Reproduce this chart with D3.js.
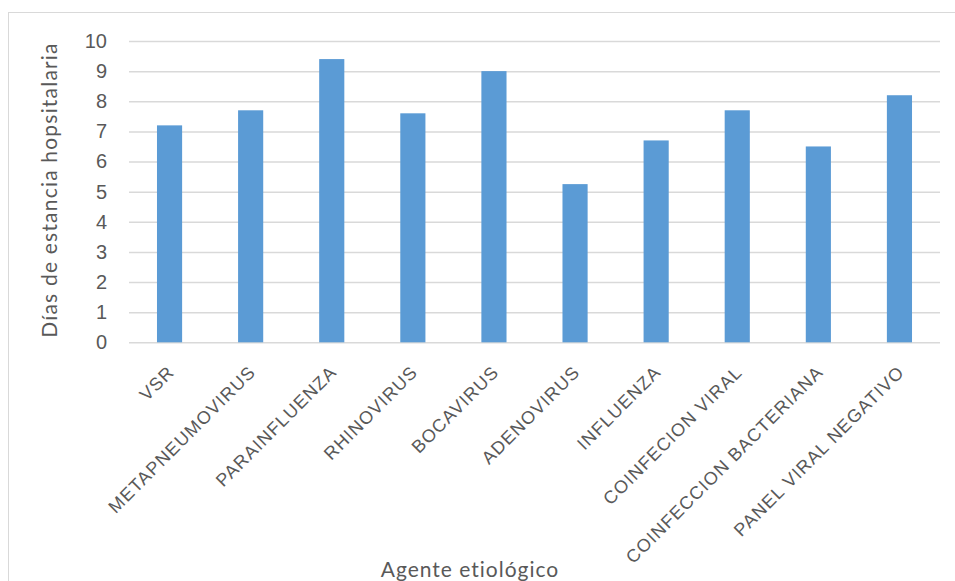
<!DOCTYPE html>
<html>
<head>
<meta charset="utf-8">
<script src="https://cdn.jsdelivr.net/npm/d3@7"></script>
<style>
  html, body { margin: 0; padding: 0; background: #fff; }
  svg { display: block; font-family: Lato, "Open Sans", sans-serif; }
</style>
</head>
<body>
<svg id="chart" width="955" height="581"></svg>
<script>
// Días de estancia hospitalaria por agente etiológico
const categories = [
  "VSR", "METAPNEUMOVIRUS", "PARAINFLUENZA", "RHINOVIRUS", "BOCAVIRUS",
  "ADENOVIRUS", "INFLUENZA", "COINFECION VIRAL", "COINFECCION BACTERIANA",
  "PANEL VIRAL NEGATIVO"
];
const values = [7.2, 7.7, 9.4, 7.6, 9.0, 5.25, 6.7, 7.7, 6.5, 8.2];
const yTicks = [0, 1, 2, 3, 4, 5, 6, 7, 8, 9, 10];
const yTitle = "Días de estancia hopsitalaria";
const xTitle = "Agente etiológico";

const W = 955, H = 581;
const margin = { left: 129, right: 15, top: 41, bottom: 239 };
const svg = d3.select("#chart");

// outer chart frame (only top and left edges fall inside the view)
svg.append("rect")
  .attr("x", 8.5).attr("y", 12.5)
  .attr("width", W + 20).attr("height", H + 20)
  .attr("fill", "none").attr("stroke", "#d9d9d9").attr("stroke-width", 1);

const x = d3.scaleBand()
  .domain(categories)
  .range([margin.left, W - margin.right])
  .paddingInner(0.69).paddingOuter(0.345);

const y = d3.scaleLinear()
  .domain([0, 10])
  .range([H - margin.bottom + 0.3, margin.top]);

// horizontal gridlines and value labels
const yAxis = d3.axisLeft(y)
  .tickValues(yTicks)
  .tickSize(-(W - margin.right - margin.left))
  .tickPadding(22)
  .tickFormat(d3.format("d"));

const gy = svg.append("g")
  .attr("transform", `translate(${margin.left},0)`)
  .call(yAxis);
gy.select(".domain").remove();
gy.selectAll(".tick line").attr("stroke", "#d9d9d9").attr("stroke-width", 1.5);
gy.selectAll(".tick text")
  .attr("fill", "#595959").attr("font-size", 20);

// bars
svg.append("g").selectAll("rect")
  .data(categories.map((c, i) => ({ c, v: values[i] })))
  .join("rect")
  .attr("x", d => x(d.c))
  .attr("width", x.bandwidth())
  .attr("y", d => y(d.v))
  .attr("height", d => y(0) - y(d.v))
  .attr("fill", "#5b9bd5");

// category axis with rotated labels
const xAxis = d3.axisBottom(x).tickSize(0).tickPadding(0);
const gx = svg.append("g")
  .attr("transform", `translate(0,${y(0)})`)
  .call(xAxis);
gx.select(".domain").remove();
gx.selectAll(".tick text")
  .attr("fill", "#595959")
  .attr("font-size", 18)
  .attr("letter-spacing", 1.1)
  .attr("text-anchor", "end")
  .attr("dy", 0)
  .attr("transform", "translate(6,31) rotate(-45)");

// axis titles
svg.append("text")
  .attr("transform", `translate(57,190) rotate(-90)`)
  .attr("text-anchor", "middle")
  .attr("fill", "#595959").attr("font-size", 21)
  .attr("letter-spacing", 1.2)
  .text(yTitle);

svg.append("text")
  .attr("x", 470).attr("y", 577)
  .attr("text-anchor", "middle")
  .attr("fill", "#595959").attr("font-size", 21)
  .attr("letter-spacing", 1)
  .text(xTitle);
</script>
</body>
</html>
